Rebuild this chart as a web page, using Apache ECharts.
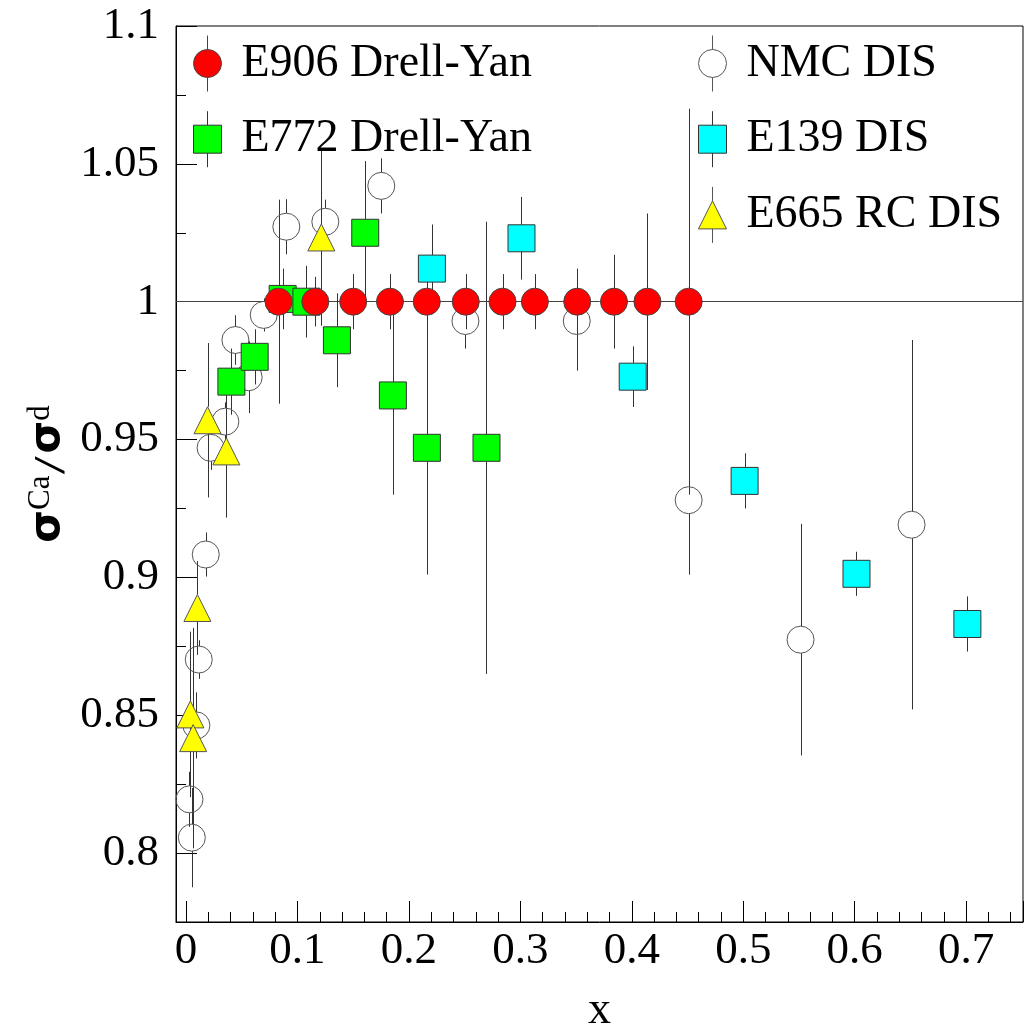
<!DOCTYPE html>
<html>
<head>
<meta charset="utf-8">
<script src="https://cdn.jsdelivr.net/npm/echarts@6/dist/echarts.min.js"></script>
<style>
html,body{margin:0;padding:0;background:#fff;}
#chart{width:1027px;height:1025px;}
</style>
</head>
<body>
<div id="chart"></div>
<script>
// ---- data (x, ratio, error) ----
const E906_NAME = 'E906 Drell-Yan';
const E906_X   = [0.083, 0.116, 0.150, 0.183, 0.216, 0.251, 0.284, 0.313, 0.351, 0.384, 0.414, 0.451];
const E906_Y   = [1.000, 1.000, 1.000, 1.000, 1.000, 1.000, 1.000, 1.000, 1.000, 1.000, 1.000, 1.000];
const E906_ERR = [0.037, 0.009, 0.010, 0.010, 0.010, 0.010, 0.010, 0.010, 0.012, 0.017, 0.032, 0.070];

const E772_NAME = 'E772 Drell-Yan';
const E772_X   = [0.0407, 0.0616, 0.0867, 0.108, 0.1354, 0.1608, 0.1856, 0.2161, 0.2696];
const E772_Y   = [0.971, 0.980, 1.001, 1.000, 0.986, 1.025, 0.966, 0.947, 0.947];
const E772_ERR = [0.012, 0.010, 0.011, 0.013, 0.017, 0.026, 0.036, 0.046, 0.082];

const NMC_NAME = 'NMC DIS';
const NMC_X   = [0.0031, 0.0052, 0.0093, 0.0114, 0.0177, 0.022, 0.0353, 0.0443, 0.0562, 0.0697, 0.090, 0.125, 0.1752, 0.2507, 0.3506, 0.451, 0.5514, 0.651];
const NMC_Y   = [0.8195, 0.8056, 0.8463, 0.8702, 0.9083, 0.947, 0.9565, 0.9861, 0.9726, 0.9952, 1.0272, 1.029, 1.042, 0.993, 0.993, 0.928, 0.8774, 0.9191];
const NMC_ERR = [0.010, 0.018, 0.012, 0.007, 0.008, 0.008, 0.007, 0.009, 0.013, 0.006, 0.010, 0.008, 0.010, 0.010, 0.018, 0.027, 0.042, 0.067];

const E139_NAME = 'E139 DIS';
const E139_X   = [0.2206, 0.301, 0.4008, 0.5012, 0.6016, 0.7011];
const E139_Y   = [1.012, 1.023, 0.9728, 0.935, 0.9013, 0.8831];
const E139_ERR = [0.016, 0.015, 0.011, 0.010, 0.008, 0.010];

const E665_NAME = 'E665 RC DIS';
const E665_X   = [0.0039, 0.0064, 0.0102, 0.0193, 0.0362, 0.1214];
const E665_Y   = [0.8503, 0.8417, 0.8889, 0.957, 0.9457, 1.0233];
const E665_ERR = [0.030, 0.040, 0.017, 0.028, 0.024, 0.032];

const X_MIN = -0.009, X_MAX = 0.751;
const Y_MIN = 0.775, Y_MAX = 1.1;
const REF_LINE = 1.0;
const X_TITLE = 'x';

// ---- helpers ----
const SERIF = "'Liberation Serif', 'Times New Roman', serif";
const SANS = "'DejaVu Sans', sans-serif";
const MARK = 27;
function zipData(xs, ys, es) { return xs.map((x, i) => [x, ys[i], es[i]]); }

function errRender(params, api) {
  const x = api.value(0), y = api.value(1), e = api.value(2);
  const p = api.coord([x, y]);
  const top = api.coord([x, y + e])[1];
  const bot = api.coord([x, y - e])[1];
  const h = MARK / 2;
  const cx = Math.round(p[0]) + 0.5;
  const kids = [];
  if (p[1] - h > top) kids.push({type: 'line', shape: {x1: cx, y1: top, x2: cx, y2: p[1] - h}, style: {stroke: '#333', lineWidth: 1}});
  if (bot > p[1] + h) kids.push({type: 'line', shape: {x1: cx, y1: p[1] + h, x2: cx, y2: bot}, style: {stroke: '#333', lineWidth: 1}});
  return {type: 'group', children: kids};
}

function errSeries(id, xs, ys, es, extra) {
  return Object.assign({
    type: 'custom', name: id, renderItem: errRender, silent: true, z: 1,
    encode: {x: 0, y: 1}, data: zipData(xs, ys, es), clip: true
  }, extra || {});
}
function markSeries(name, xs, ys, es, symbol, color, border) {
  return {
    type: 'scatter', name: name, symbol: symbol, symbolSize: MARK, z: 2, silent: true,
    data: zipData(xs, ys, es),
    encode: {x: 0, y: 1},
    itemStyle: {color: color, borderColor: border, borderWidth: 1, opacity: 1},
    emphasis: {disabled: true}
  };
}

const ICON_CIRCLE = 'path://M14,0L14,14M14,42L14,56M0,28A14,14,0,1,1,28,28A14,14,0,1,1,0,28Z';
const ICON_SQUARE = 'path://M14,0L14,14M14,42L14,56M0,14L28,14L28,42L0,42Z';
const ICON_TRI    = 'path://M14,0L14,14M14,42L14,56M14,14L28,42L0,42Z';

const legendCommon = {
  orient: 'vertical', itemWidth: 28, itemHeight: 56, itemGap: 18.7,
  selectedMode: false, padding: 0,
  itemStyle: {borderWidth: 1},
  textStyle: {fontFamily: SERIF, fontSize: 46, color: '#000', padding: [0, 0, 0, 15]}
};

const chart = echarts.init(document.getElementById('chart'), null, {renderer: 'canvas'});
chart.setOption({
  animation: false,
  backgroundColor: '#fff',
  grid: {left: 176, right: 4, top: 26, bottom: 103, show: true, borderColor: '#000', borderWidth: 1,
         backgroundColor: 'rgba(0,0,0,0)', containLabel: false, outerBoundsMode: 'none'},
  legend: [
    Object.assign({}, legendCommon, {left: 193, top: 35, data: [
      {name: E906_NAME, icon: ICON_CIRCLE},
      {name: E772_NAME, icon: ICON_SQUARE}
    ]}),
    Object.assign({}, legendCommon, {left: 698, top: 35, data: [
      {name: NMC_NAME, icon: ICON_CIRCLE},
      {name: E139_NAME, icon: ICON_SQUARE},
      {name: E665_NAME, icon: ICON_TRI}
    ]})
  ],
  xAxis: {
    type: 'value', min: X_MIN, max: X_MAX, splitNumber: 8,
    name: X_TITLE, nameLocation: 'middle', nameGap: 66,
    nameTextStyle: {fontFamily: SERIF, fontSize: 46, color: '#000'},
    axisLine: {show: true, onZero: false, lineStyle: {color: '#000', width: 1}},
    axisTick: {show: true, inside: true, length: 21, lineStyle: {color: '#000', width: 1}},
    minorTick: {show: true, splitNumber: 5, length: 10, lineStyle: {color: '#000', width: 1}},
    splitLine: {show: false}, minorSplitLine: {show: false},
    axisLabel: {
      margin: 7, fontFamily: SERIF, fontSize: 45, color: '#000',
      showMinLabel: true, showMaxLabel: true,
      formatter: function (v) { return Math.abs(v * 10 - Math.round(v * 10)) < 1e-6 ? String(+v.toFixed(1)) : ''; }
    }
  },
  yAxis: {
    type: 'value', min: Y_MIN, max: Y_MAX, splitNumber: 6,
    name: '{s|σ}{sup|Ca}{sl|/}{s|σ}{sup|d}',
    nameLocation: 'middle', nameRotate: 90, nameGap: 104,
    nameTextStyle: {
      color: '#000', fontFamily: SERIF,
      rich: {
        s: {fontFamily: SANS, fontSize: 42, fontWeight: 'bold', lineHeight: 44, padding: [16, 0, 0, 0], verticalAlign: 'bottom', color: '#000'},
        sl: {fontFamily: SANS, fontSize: 36, fontStyle: 'italic', lineHeight: 44, padding: [16, 6, 0, 4], verticalAlign: 'bottom', color: '#000'},
        sup: {fontFamily: SERIF, fontSize: 31, lineHeight: 32, verticalAlign: 'top', color: '#000'}
      }
    },
    axisLine: {show: true, onZero: false, lineStyle: {color: '#000', width: 1}},
    axisTick: {show: true, inside: true, length: 21, lineStyle: {color: '#000', width: 1}},
    minorTick: {show: true, splitNumber: 2, length: 10, lineStyle: {color: '#000', width: 1}},
    splitLine: {show: false}, minorSplitLine: {show: false},
    axisLabel: {
      margin: 17, fontFamily: SERIF, fontSize: 45, color: '#000',
      formatter: function (v) { return Math.abs(v * 20 - Math.round(v * 20)) < 1e-6 ? String(+v.toFixed(2)) : ''; }
    }
  },
  series: [
    errSeries('nmc_err', NMC_X, NMC_Y, NMC_ERR, {
      markLine: {
        silent: true, symbol: ['none', 'none'], z: 1,
        label: {show: false},
        lineStyle: {color: '#444', width: 1, type: 'solid'},
        emphasis: {disabled: true},
        data: [{yAxis: REF_LINE}]
      }
    }),
    errSeries('e772_err', E772_X, E772_Y, E772_ERR),
    errSeries('e139_err', E139_X, E139_Y, E139_ERR),
    errSeries('e665_err', E665_X, E665_Y, E665_ERR),
    errSeries('e906_err', E906_X, E906_Y, E906_ERR),
    markSeries(NMC_NAME, NMC_X, NMC_Y, NMC_ERR, 'circle', 'rgba(255,255,255,0)', '#555'),
    markSeries(E772_NAME, E772_X, E772_Y, E772_ERR, 'rect', '#00ff00', '#333'),
    markSeries(E139_NAME, E139_X, E139_Y, E139_ERR, 'rect', '#00ffff', '#333'),
    markSeries(E665_NAME, E665_X, E665_Y, E665_ERR, 'triangle', '#ffff00', '#555'),
    markSeries(E906_NAME, E906_X, E906_Y, E906_ERR, 'circle', '#ff0000', '#444')
  ]
});
</script>
</body>
</html>
